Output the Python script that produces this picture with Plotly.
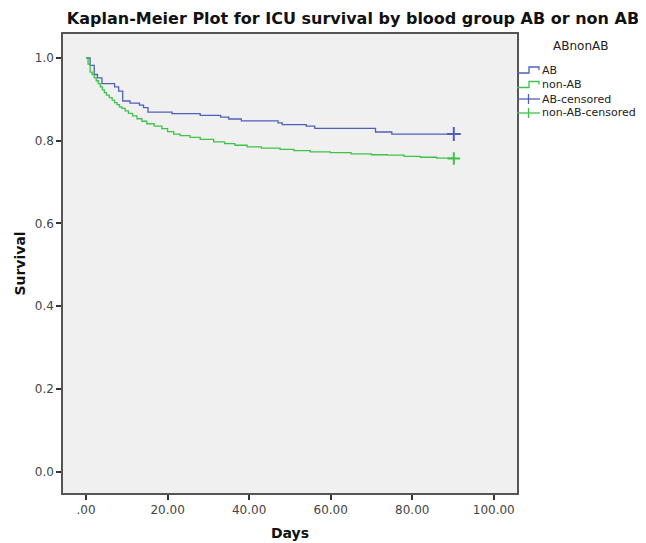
import plotly.graph_objects as go

# Kaplan-Meier step data
ab_days = [0, 1.0, 2.0, 2.8, 3.9, 7.0, 8.0, 9.0, 10.8, 13.1, 14.1, 15.2, 21.1, 28.0,
           33.0, 35.0, 38.1, 47.1, 48.1, 54.0, 56.1, 71.0, 75.0, 90.2]
ab_surv = [1.0, 0.982, 0.960, 0.952, 0.938, 0.930, 0.920, 0.896, 0.891, 0.886, 0.880,
           0.869, 0.8655, 0.861, 0.857, 0.8525, 0.848, 0.843, 0.839, 0.835, 0.830,
           0.821, 0.816, 0.816]

nonab_days = [0, 0.5, 1.0, 1.5, 2.0, 2.5, 3.0, 3.5, 4.0, 4.5, 5.0, 5.7, 6.4, 7.0, 7.6,
              8.2, 8.8, 9.6, 10.4, 11.4, 12.5, 13.7, 14.9, 16.7, 18.6, 20.0, 21.5,
              23.1, 25.5, 28.0, 31.3, 34.0, 36.5, 39.5, 43.0, 47.6, 51.0, 55.0, 59.9,
              65.0, 70.0, 73.8, 78.0, 82.0, 86.0, 90.2]
nonab_surv = [1.000, 0.985, 0.966, 0.960, 0.952, 0.945, 0.938, 0.930, 0.923, 0.916,
              0.910, 0.904, 0.898, 0.892, 0.887, 0.882, 0.878, 0.872, 0.866, 0.860,
              0.853, 0.847, 0.841, 0.835, 0.829, 0.822, 0.816, 0.812, 0.808, 0.803,
              0.797, 0.793, 0.789, 0.785, 0.782, 0.779, 0.776, 0.773, 0.771, 0.768,
              0.766, 0.765, 0.762, 0.760, 0.758, 0.757]

ab_cens_days = [90.2]
ab_cens_surv = [0.816]
nonab_cens_days = [90.2]
nonab_cens_surv = [0.757]

x_ticks = [0, 20, 40, 60, 80, 100]
x_ticklabels = [".00", "20.00", "40.00", "60.00", "80.00", "100.00"]
y_ticks = [0.0, 0.2, 0.4, 0.6, 0.8, 1.0]
y_ticklabels = ["0.0", "0.2", "0.4", "0.6", "0.8", "1.0"]

legend_title = "ABnonAB"
legend_labels = ["AB", "non-AB", "AB-censored", "non-AB-censored"]

BLUE = "#4f60b8"
GREEN = "#3ec24a"
FONT = "DejaVu Sans"

# page is rendered with an 8px body margin; compensate
OFF = 8
W, H = 646 - OFF, 543 - OFF
L, R, T, B = 63 - OFF, 129, 34 - OFF, 50
PW, PH = W - L - R, H - T - B


def px(x):  # page pixel x -> paper
    return (x - OFF - L) / PW


def py(y):  # page pixel y -> paper
    return (H - B - (y - OFF)) / PH


fig = go.Figure()
fig.add_trace(go.Scatter(x=ab_days, y=ab_surv, mode="lines", line_shape="hv",
                         line=dict(color=BLUE, width=1.3), name=legend_labels[0]))
fig.add_trace(go.Scatter(x=nonab_days, y=nonab_surv, mode="lines", line_shape="hv",
                         line=dict(color=GREEN, width=1.3), name=legend_labels[1]))
fig.add_trace(go.Scatter(x=ab_cens_days, y=ab_cens_surv, mode="markers",
                         marker=dict(symbol="cross-thin", size=10,
                                     line=dict(color=BLUE, width=2)),
                         name=legend_labels[2]))
fig.add_trace(go.Scatter(x=nonab_cens_days, y=nonab_cens_surv, mode="markers",
                         marker=dict(symbol="cross-thin", size=9,
                                     line=dict(color=GREEN, width=2)),
                         name=legend_labels[3]))

# Manual legend (SPSS style)
annotations = [dict(text=legend_title, x=px(580), y=py(46), xref="paper", yref="paper",
                    xanchor="center", yanchor="middle", showarrow=False,
                    font=dict(family=FONT, size=12, color="#222"))]
shapes = []
item_y = [70, 84.5, 99, 113]
colors = [BLUE, GREEN, BLUE, GREEN]
for i, (lab, yy, col) in enumerate(zip(legend_labels, item_y, colors)):
    annotations.append(dict(text=lab, x=px(540), y=py(yy), xref="paper", yref="paper",
                            xanchor="left", yanchor="middle", showarrow=False,
                            font=dict(family=FONT, size=11, color="#222")))
    if i < 2:
        path = (f"M {px(517)},{py(yy + 3)} L {px(529)},{py(yy + 3)} L {px(529)},{py(yy - 3)} "
                f"L {px(539)},{py(yy - 3)} L {px(539)},{py(yy)}")
        shapes.append(dict(type="path", path=path, xref="paper", yref="paper",
                           line=dict(color=col, width=1.3)))
    else:
        shapes.append(dict(type="line", x0=px(517), x1=px(540), y0=py(yy), y1=py(yy),
                           xref="paper", yref="paper", line=dict(color=col, width=1.3)))
        shapes.append(dict(type="line", x0=px(528.5), x1=px(528.5), y0=py(yy - 5), y1=py(yy + 5),
                           xref="paper", yref="paper", line=dict(color=col, width=1.3)))

fig.update_layout(
    width=W, height=H,
    margin=dict(l=L, r=R, t=T, b=B, autoexpand=False),
    paper_bgcolor="white", plot_bgcolor="#f0f0f0",
    font=dict(family=FONT, size=11, color="#333"),
    title=dict(text="<b>Kaplan-Meier Plot for ICU survival by blood group AB or non AB</b>",
               x=(353 - OFF) / W, xanchor="center", y=1 - (18 - OFF) / H, yanchor="middle",
               font=dict(family=FONT, size=16, color="#111")),
    showlegend=False,
    annotations=annotations,
    shapes=shapes,
)
fig.update_xaxes(range=[-5.65, 105.7], tickvals=x_ticks, ticktext=x_ticklabels,
                 showgrid=False, zeroline=False, showline=True, linecolor="#555",
                 linewidth=1.5, mirror=True, ticks="outside", ticklen=5,
                 tickcolor="#333", tickwidth=1.5, tickfont=dict(size=12, color="#444"),
                 title=dict(text="<b>Days</b>", font=dict(size=14, color="#111"), standoff=12))
fig.update_yaxes(range=[-0.052, 1.058], tickvals=y_ticks, ticktext=y_ticklabels,
                 showgrid=False, zeroline=False, showline=True, linecolor="#555",
                 linewidth=1.5, mirror=True, ticks="outside", ticklen=5,
                 tickcolor="#333", tickwidth=1.5, tickfont=dict(size=12, color="#444"),
                 title=dict(text="<b>Survival</b>", font=dict(size=14, color="#111"), standoff=6))

fig.write_html("out.html")
